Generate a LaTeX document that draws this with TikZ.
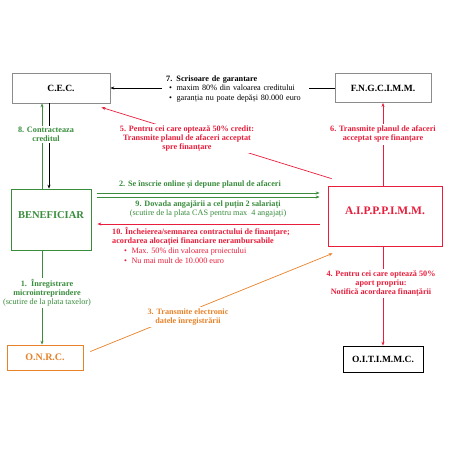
\documentclass[tikz,border=0pt]{standalone}
\usepackage{fontspec}
\setmainfont{Liberation Serif}
\usetikzlibrary{arrows.meta,calc}
\definecolor{gr}{RGB}{56,140,60}
\definecolor{rd}{RGB}{232,30,60}
\definecolor{orn}{RGB}{232,130,40}
\definecolor{bx}{RGB}{140,140,140}
\begin{document}
\begin{tikzpicture}[x=1pt,y=-1pt,
  font=\fontsize{8.2}{9.3}\selectfont,
  >={Stealth[length=4pt,width=3pt]},
  conn/.style={line width=0.7pt},
  box/.style={draw,line width=0.7pt,inner sep=0pt,font=\bfseries\fontsize{9.5}{10}\selectfont},
  lab/.style={fill=white,align=center,inner sep=1.5pt,font=\bfseries\fontsize{8.2}{9.3}\selectfont}]
\useasboundingbox[fill=white] (0,0) rectangle (450,450);

% boxes
\node[box,draw=bx,minimum width=98pt,minimum height=30pt] (cec) at (61,88) {C.E.C.};
\node[box,draw=bx,minimum width=96pt,minimum height=29pt] (fng) at (383,88) {F.N.G.C.I.M.M.};
\node[box,draw=gr,minimum width=80pt,minimum height=61pt] (ben) at (51,219.5) {};
\node[text=gr,font=\bfseries\fontsize{10.5}{11}\selectfont] (benT) at (51,215) {BENEFICIAR};
\node[box,draw=rd,minimum width=114pt,minimum height=60pt] (aip) at (385,216) {};
\node[text=rd,font=\bfseries\fontsize{11.5}{12}\selectfont] (aipT) at (385,211) {A.I.P.P.P.I.M.M.};
\node[box,draw=orn,text=orn,minimum width=76pt,minimum height=25pt,font=\bfseries\fontsize{10}{11}\selectfont] (onrc) at (45,357.5) {O.N.R.C.};
\node[box,draw=black,minimum width=80pt,minimum height=26pt] (oit) at (383,359) {O.I.T.I.M.M.C.};

\coordinate (xA) at (42,0);
\coordinate (xB) at (49,0);
\coordinate (xC) at (383,0);
\coordinate (y2) at (0,193);
\coordinate (y9) at (0,197);
\coordinate (y10) at (0,224);

% 8
\draw[conn,gr,->] (xA |- ben.north) -- (xA |- cec.south);
\draw[conn,black,->] (xB |- cec.south) -- (xB |- ben.north);
\node[lab,text=gr] (l8) at (46,134.5) {8. Contracteaza\\creditul};

% 7
\draw[conn,black,->] (fng.west) -- (cec.east);
\node[fill=white,inner xsep=4pt,inner ysep=1pt,anchor=west,text width=139pt,align=left,
  font=\fontsize{8.2}{9.6}\selectfont] (l7) at (162,89)
  {\textbf{7. Scrisoare de garantare}\\
   \hspace*{3pt}\textbullet\hspace{4.5pt}maxim 80\% din valoarea creditului\\
   \hspace*{3pt}\textbullet\hspace{4.5pt}garanția nu poate depăși 80.000 euro};

% 5
\coordinate (c5s) at ($(aip.north west)+(4,-7)$);
\coordinate (c5e) at ($(cec.south east)+(-9,4)$);
\draw[conn,rd,->] (c5s) -- (c5e);
\node[lab,text=rd] (l5) at (187,138.5) {5. Pentru cei care optează 50\% credit:\\Transmite planul de afaceri acceptat\\spre finanțare};

% 6
\draw[conn,rd,->] (xC |- aip.north) -- (xC |- fng.south);
\node[lab,text=rd] (l6) at (383,134.5) {6. Transmite planul de afaceri\\acceptat spre finanțare};

% 2
\draw[conn,gr,->,shorten <=6pt,shorten >=8pt] (ben.east |- y2) -- (aip.west |- y2);
\node[text=gr,font=\bfseries\fontsize{8.2}{9.3}\selectfont] (l2) at (200,185) {2. Se înscrie online și depune planul de afaceri};

% 9
\draw[conn,gr,->,shorten <=6pt,shorten >=8pt] (ben.east |- y9) -- (aip.west |- y9);
\node[text=gr,align=center] (l9) at (208,209) {\textbf{9. Dovada angajării a cel puțin 2 salariați}\\(scutire de la plata CAS pentru max\ \ 4 angajați)};

% 10
\draw[conn,rd,->,shorten <=8pt,shorten >=6pt] (aip.west |- y10) -- (ben.east |- y10);
\node[text=rd,align=left,anchor=north west,inner sep=0pt,font=\fontsize{8.2}{9.6}\selectfont] (l10) at (112,227)
  {\textbf{10. Încheierea/semnarea contractului de finanțare;}\\
   \textbf{acordarea alocației financiare nerambursabile}\\
   \hspace*{12pt}\textbullet\hspace{4.5pt}Max. 50\% din valoarea proiectului\\
   \hspace*{12pt}\textbullet\hspace{4.5pt}Nu mai mult de 10.000 euro};

% 1
\draw[conn,gr,->] (xA |- ben.south) -- (xA |- onrc.north);
\node[lab,text=gr] (l1) at (47,293) {1.\ \ Înregistrare\\microintreprindere\\\mdseries(scutire de la plata taxelor)};

% 3
\coordinate (c3s) at ($(onrc.east)+(7,-6)$);
\coordinate (c3e) at ($(aip.south west)+(5,7)$);
\draw[conn,orn,->] (c3s) -- (c3e);
\node[lab,text=orn] (l3) at (188,317) {3. Transmite electronic\\datele înregistrării};

% 4
\draw[conn,rd,->] (xC |- aip.south) -- (xC |- oit.north);
\node[lab,text=rd] (l4) at (381,283.5) {4. Pentru cei care optează 50\%\\aport propriu:\\Notifică acordarea finanțării};
\end{tikzpicture}
\end{document}
